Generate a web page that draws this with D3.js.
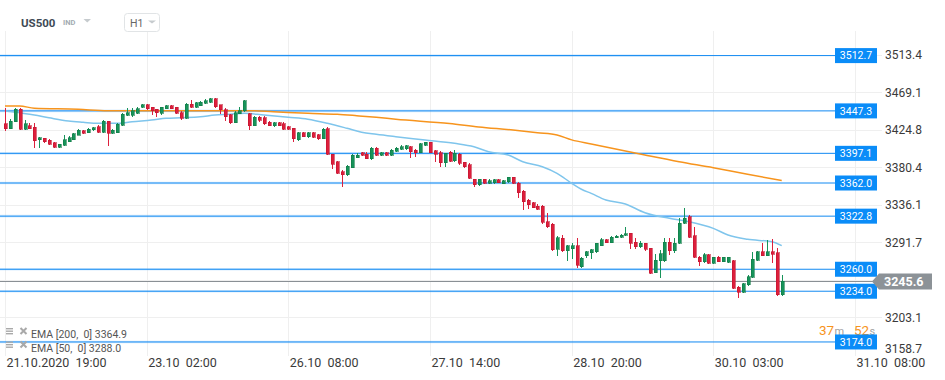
<!DOCTYPE html>
<html><head><meta charset="utf-8">
<script src="https://cdn.jsdelivr.net/npm/d3@7"></script>
<style>html,body{margin:0;padding:0;background:#fff;} svg{display:block;font-family:Roboto, "Noto Sans", sans-serif;}</style>
</head><body><svg id="chart" width="945" height="380"></svg>
<script>
const symbol = "US500", symbolType = "IND", interval = "H1";
// hourly candles [open, high, low, close]
const candles = [
[3431.8,3450.4,3423.9,3425.9],[3426.3,3437.4,3425.5,3434.8],[3434.5,3450.4,3433.9,3449.2],[3449.2,3450.4,3424.9,3425.7],
[3425.7,3436.5,3424.9,3431.8],[3429.5,3432.6,3425.9,3426.3],[3427.9,3432.6,3403.1,3412.2],[3413.0,3416.6,3403.1,3415.4],
[3415.0,3415.8,3409.0,3411.0],[3412.7,3413.5,3406.6,3408.0],[3409.9,3410.5,3403.4,3404.4],[3404.4,3408.6,3403.7,3408.0],
[3406.8,3418.9,3405.9,3413.0],[3411.0,3417.2,3410.0,3415.8],[3413.4,3421.7,3413.0,3420.1],[3418.7,3426.3,3418.3,3424.6],
[3424.1,3424.7,3420.3,3420.9],[3421.3,3427.5,3420.9,3425.7],[3424.9,3428.7,3423.3,3427.5],[3428.7,3430.3,3421.3,3422.3],
[3422.3,3436.5,3421.3,3434.8],[3434.8,3435.5,3406.3,3420.9],[3420.9,3425.5,3420.2,3424.6],[3421.3,3432.6,3420.6,3431.4],
[3430.2,3444.5,3429.5,3443.3],[3442.1,3450.4,3441.3,3445.2],[3442.1,3450.4,3440.1,3447.2],[3444.5,3451.6,3443.7,3450.0],
[3451.6,3455.5,3451.2,3454.3],[3454.3,3455.5,3448.4,3450.0],[3451.6,3452.3,3442.5,3447.2],[3449.2,3450.0,3440.1,3445.2],
[3444.5,3452.3,3442.5,3451.6],[3450.0,3454.0,3449.5,3453.1],[3453.1,3453.8,3449.4,3450.0],[3451.6,3452.3,3443.7,3444.5],
[3445.0,3446.6,3436.2,3438.7],[3438.7,3456.3,3437.5,3455.1],[3455.1,3460.2,3450.4,3451.6],[3451.6,3458.0,3450.8,3456.7],
[3453.5,3459.0,3452.8,3457.8],[3456.3,3461.0,3455.5,3459.4],[3457.6,3462.2,3457.0,3461.4],[3461.4,3462.0,3450.4,3452.3],
[3454.3,3454.8,3443.7,3448.4],[3448.4,3450.4,3435.3,3440.1],[3442.5,3443.7,3431.4,3433.4],[3433.4,3446.6,3432.8,3445.0],
[3443.7,3451.6,3443.3,3447.5],[3447.5,3459.6,3446.3,3459.0],[3443.7,3444.5,3424.9,3429.9],[3429.9,3441.0,3428.9,3440.0],
[3440.0,3440.8,3433.9,3436.5],[3438.9,3440.8,3430.6,3431.8],[3433.8,3435.3,3429.5,3429.9],[3429.9,3434.6,3428.7,3433.4],
[3433.0,3433.8,3429.3,3429.9],[3432.3,3433.8,3424.9,3425.7],[3428.3,3429.0,3425.0,3425.7],[3426.7,3427.5,3411.0,3414.5],
[3413.0,3422.8,3412.2,3421.6],[3421.6,3422.8,3416.2,3416.9],[3416.9,3422.8,3415.0,3421.3],[3421.6,3422.3,3415.6,3416.4],
[3418.9,3419.5,3413.0,3414.5],[3414.5,3426.7,3413.8,3425.7],[3426.1,3428.0,3395.1,3395.9],[3395.9,3396.5,3378.9,3384.4],
[3387.2,3388.4,3372.7,3373.5],[3375.4,3377.4,3356.8,3371.5],[3371.5,3383.2,3370.3,3382.0],[3380.1,3395.9,3379.4,3395.1],
[3392.0,3397.9,3391.3,3395.1],[3397.9,3399.1,3394.0,3394.8],[3395.9,3398.4,3390.0,3390.7],[3390.7,3404.3,3389.2,3403.1],
[3403.1,3404.0,3394.0,3394.8],[3394.8,3398.6,3394.2,3397.9],[3397.9,3398.6,3394.2,3394.8],[3394.8,3401.8,3394.2,3401.0],
[3399.3,3404.0,3398.6,3403.1],[3401.9,3407.0,3400.9,3405.0],[3402.7,3407.0,3400.9,3405.8],[3405.0,3405.8,3392.0,3399.1],
[3401.0,3401.9,3393.2,3397.9],[3397.9,3409.0,3397.1,3408.2],[3406.8,3411.0,3406.0,3410.2],[3410.2,3411.0,3397.0,3397.9],
[3399.9,3401.0,3387.2,3395.9],[3397.9,3399.9,3381.3,3386.0],[3386.0,3397.9,3381.3,3397.2],[3398.3,3399.9,3387.2,3388.0],
[3388.4,3401.0,3387.2,3397.2],[3396.3,3397.9,3383.3,3385.3],[3386.5,3387.2,3380.1,3381.3],[3383.3,3385.3,3366.8,3367.6],
[3366.4,3367.0,3357.7,3359.7],[3359.7,3367.2,3359.0,3366.4],[3366.4,3367.0,3361.0,3361.7],[3361.7,3367.2,3361.0,3364.4],
[3362.4,3366.4,3361.2,3365.6],[3365.6,3366.3,3361.8,3362.4],[3360.9,3365.0,3360.3,3364.4],[3363.6,3369.6,3362.4,3368.8],
[3368.8,3369.6,3360.5,3361.7],[3361.7,3362.9,3344.6,3350.5],[3352.5,3353.7,3330.1,3339.9],[3341.9,3342.5,3330.9,3336.0],
[3338.7,3339.9,3332.0,3332.8],[3334.8,3337.2,3330.1,3330.9],[3334.8,3336.0,3314.1,3315.3],[3316.4,3327.1,3308.6,3310.2],
[3313.2,3314.4,3282.0,3282.8],[3283.6,3299.3,3275.7,3297.3],[3296.6,3300.5,3280.7,3281.9],[3281.9,3288.7,3269.8,3287.5],
[3284.3,3290.5,3272.6,3287.5],[3287.5,3296.6,3261.1,3265.0],[3263.1,3274.9,3261.1,3272.9],[3275.7,3282.0,3272.9,3280.8],
[3279.6,3283.6,3271.7,3282.8],[3280.8,3291.4,3279.6,3290.7],[3287.9,3297.3,3287.5,3294.6],[3294.6,3295.4,3290.7,3291.4],
[3291.4,3298.8,3290.7,3298.0],[3297.3,3300.0,3296.6,3299.3],[3298.0,3301.2,3297.3,3300.5],[3300.5,3310.2,3299.5,3301.7],
[3302.5,3303.0,3284.0,3290.7],[3291.9,3296.6,3283.6,3286.7],[3286.7,3293.8,3284.8,3290.7],[3290.7,3291.4,3281.6,3283.6],
[3284.8,3285.5,3254.4,3255.2],[3255.9,3277.7,3255.2,3270.9],[3270.0,3282.8,3249.3,3278.1],[3270.1,3296.9,3269.0,3292.2],
[3292.2,3296.9,3276.9,3282.0],[3282.0,3296.9,3279.0,3290.9],[3290.9,3320.3,3289.6,3314.4],[3314.4,3332.1,3313.6,3320.3],
[3322.2,3324.2,3296.7,3297.9],[3299.5,3310.4,3273.0,3274.2],[3274.2,3275.7,3264.0,3269.0],[3269.0,3279.7,3267.8,3276.9],
[3276.9,3277.7,3266.2,3267.0],[3267.0,3275.0,3266.3,3274.2],[3274.2,3275.7,3268.2,3269.0],[3269.0,3275.0,3268.3,3274.2],
[3268.4,3275.0,3267.7,3274.2],[3269.8,3271.0,3236.3,3237.5],[3238.7,3240.2,3226.4,3232.8],[3232.8,3243.4,3232.0,3242.6],
[3241.4,3253.2,3240.2,3251.2],[3250.5,3280.8,3249.3,3271.8],[3270.9,3282.0,3270.1,3280.8],[3280.8,3290.7,3275.5,3276.1],
[3276.1,3294.6,3275.7,3280.8],[3280.8,3295.4,3266.9,3277.7],[3279.6,3284.8,3228.4,3229.6],[3229.6,3253.2,3228.5,3245.6]
];
const ema200Idx = [0,3,6,15,21,50,55,62,68,72,76,80,91,97,104,109,113,116,120,131,138,145,152,159];
const ema200 = [3453.1,3453.1,3450.4,3449.2,3447.5,3447.5,3446.3,3444.4,3443.3,3441.6,3439.7,3437.4,3432.4,3428.3,3424.7,3421.5,3418.8,3413.0,3408.1,3395.1,3387.2,3380.1,3372.3,3364.9];
const ema50Idx = [0,3,6,9,13,16,19,23,26,30,33,36,40,43,46,49,53,58,62,66,70,73,76,80,86,92,96,99,103,106,110,113,116,118,120,123,127,131,136,140,145,148,152,157,159];
const ema50 = [3447.2,3445.2,3442.4,3439.2,3435.3,3433.8,3432.6,3432.6,3434.5,3436.5,3438.5,3439.2,3440.4,3442.4,3443.3,3444.4,3442.4,3439.7,3437.4,3432.6,3426.7,3422.0,3419.6,3416.8,3412.9,3408.9,3404.9,3399.0,3395.1,3387.2,3381.3,3373.5,3361.7,3354.6,3349.8,3341.9,3337.2,3326.9,3320.3,3316.3,3308.4,3300.5,3295.4,3292.6,3288.0];
const levels = [3512.7,3447.3,3397.1,3362.0,3322.8,3260.0,3234.0,3174.0];
const priceTicks = [3513.4,3469.1,3424.8,3380.4,3336.1,3291.7,3247.4,3203.1,3158.7];
const timeTickIdx = [0,29,58,87,116,145,174];
const timeLabels = ["21.10.2020  19:00","23.10  02:00","26.10  08:00","27.10  14:00","28.10  20:00","30.10  03:00","31.10  08:00"];
const lastPrice = 3245.6;
const legendItems = ["EMA [200,  0] 3364.9","EMA [50,  0] 3288.0"];
const timerParts = ["37","m","52","s"];

const svg = d3.select("#chart");
const x = d3.scaleLinear().domain([0,174]).range([5,855]);
const y = d3.scaleLinear().domain([3158.7,3513.4]).range([354.9,55]);
const GREEN = "#17935a", RED = "#dd1f3c", BLUE = "#1189f2";

// grid
const grid = svg.append("g");
grid.selectAll("line.h").data(priceTicks.filter(p => y(p) < 350)).join("line")
  .attr("x1",0).attr("x2",882).attr("y1",d=>Math.round(y(d))+0.5).attr("y2",d=>Math.round(y(d))+0.5)
  .attr("stroke","#efefef").attr("stroke-width",1);
grid.selectAll("line.v").data(timeTickIdx).join("line")
  .attr("x1",d=>Math.round(x(d))+0.5).attr("x2",d=>Math.round(x(d))+0.5).attr("y1",31).attr("y2",356)
  .attr("stroke","#efefef").attr("stroke-width",1);

// level lines
const lv = svg.append("g");
lv.selectAll("line.band").data(levels).join("line")
  .attr("x1",0).attr("x2",690).attr("y1",d=>y(d)).attr("y2",d=>y(d))
  .attr("stroke","rgba(120,190,250,0.28)").attr("stroke-width",2.6);
lv.selectAll("line.main").data(levels).join("line")
  .attr("x1",0).attr("x2",836).attr("y1",d=>y(d)).attr("y2",d=>y(d))
  .attr("stroke",BLUE).attr("stroke-width",1);

// last price line
svg.append("line").attr("x1",0).attr("x2",873).attr("y1",y(lastPrice)).attr("y2",y(lastPrice))
  .attr("stroke","#8a9095").attr("stroke-width",1.1);

// EMAs
const line = d3.line().x(d=>x(d[0])).y(d=>y(d[1])).curve(d3.curveMonotoneX);
svg.append("path").datum(ema200Idx.map((d,i)=>[d,ema200[i]])).attr("d",line)
  .attr("fill","none").attr("stroke","#f7941d").attr("stroke-width",1.5);
svg.append("path").datum(ema50Idx.map((d,i)=>[d,ema50[i]])).attr("d",line)
  .attr("fill","none").attr("stroke","#7fc5ec").attr("stroke-width",1.5);

// candles
const cg = svg.append("g").attr("shape-rendering","crispEdges");
const cs = cg.selectAll("g").data(candles).join("g");
cs.append("line")
  .attr("x1",(d,i)=>Math.round(x(i))+0.5).attr("x2",(d,i)=>Math.round(x(i))+0.5)
  .attr("y1",d=>y(d[1])).attr("y2",d=>y(d[2]))
  .attr("stroke",d=>d[3]>=d[0]?GREEN:RED).attr("stroke-width",1);
cs.append("rect")
  .attr("x",(d,i)=>Math.round(x(i))-1).attr("width",3)
  .attr("y",d=>y(Math.max(d[0],d[3])))
  .attr("height",d=>Math.max(1.5,Math.abs(y(d[0])-y(d[3]))))
  .attr("fill",d=>d[3]>=d[0]?GREEN:RED)
  .attr("stroke",d=>d[3]>=d[0]?"#0f7a45":"#c2142f").attr("stroke-width",0.6);

// legend
const lg = svg.append("g");
legendItems.forEach((t,i)=>{
  const by = 338 + i*13.5;
  const g = lg.append("g");
  [0,2.5,5].forEach(k=>g.append("rect").attr("x",6).attr("y",by-10+k).attr("width",7).attr("height",1.4).attr("fill","#a9a9a9"));
  g.append("path").attr("d",`M${20.5},${by-10} L${26.5},${by-4} M${26.5},${by-10} L${20.5},${by-4}`)
    .attr("stroke","#a9a9a9").attr("stroke-width",2);
  g.append("text").attr("x",31).attr("y",by).attr("font-size",10.5).attr("fill","#555")
    .style("white-space","pre").text(t);
});

// timer (its lower edge sits under the 3174.0 level tag, as in the original)
const tm = svg.append("text").attr("y",335);
const tpos = [819,834.5,854,869.5];
timerParts.forEach((p,i)=>{
  tm.append("tspan").attr("x",tpos[i]).attr("fill",i%2===0?"#f7941d":"#a0a0a0")
    .attr("font-size",i%2===0?13.5:11).text(p);
});

// level boxes
const lb = svg.append("g");
lb.selectAll("rect").data(levels).join("rect")
  .attr("x",835).attr("width",42).attr("y",d=>y(d)-7.5).attr("height",15).attr("fill","#0a8cf8");
lb.selectAll("text").data(levels).join("text")
  .attr("x",856).attr("y",d=>y(d)).attr("dy","0.36em").attr("text-anchor","middle")
  .attr("font-size",10.5).attr("fill","#fff").text(d=>d.toFixed(1));

// price axis
const ya = svg.append("g").attr("transform","translate(885,0)")
  .call(d3.axisRight(y).tickValues(priceTicks).tickSize(0).tickPadding(0).tickFormat(d3.format(".1f")));
ya.select(".domain").remove();
ya.selectAll("text").attr("font-size",12).attr("fill","#3a3a3a").attr("font-family","Roboto, sans-serif");
ya.selectAll(".tick").filter(d=>y(d)>349).attr("transform","translate(0,349)");

// time axis
const xa = svg.append("g").attr("transform","translate(0,367)")
  .call(d3.axisBottom(x).tickValues(timeTickIdx).tickSize(0).tickFormat((d,i)=>timeLabels[i]));
xa.select(".domain").remove();
xa.selectAll("text").attr("y",0).attr("dy",0).attr("dx",1).attr("text-anchor","start")
  .attr("font-size",12.5).attr("fill","#3a3a3a").attr("font-family","Roboto, sans-serif").style("white-space","pre");

// last price tag
const ly = y(lastPrice);
svg.append("path").attr("d",`M872,${ly} L879,${ly-8} L932,${ly-8} L932,${ly+8} L879,${ly+8} Z`).attr("fill","#8c9297");
svg.append("text").attr("x",884).attr("y",ly).attr("dy","0.36em").attr("font-size",12.5).attr("font-weight","bold")
  .attr("fill","#fff").text(lastPrice.toFixed(1));

// header
const hd = svg.append("g");
hd.append("text").attr("x",21).attr("y",27).attr("font-size",11.5).attr("font-weight","bold").attr("fill","#3e4a55").text(symbol);
hd.append("text").attr("x",63).attr("y",25).attr("font-size",7.5).attr("font-weight","bold").attr("fill","#a3abb1").text(symbolType);
hd.append("path").attr("d","M83.5,19 L91,19 L87.25,22.5 Z").attr("fill","#c6cbce");
hd.append("rect").attr("x",124.5).attr("y",13.5).attr("width",35).attr("height",18).attr("rx",3)
  .attr("fill","#fff").attr("stroke","#e1e4e6");
hd.append("text").attr("x",130).attr("y",26.5).attr("font-size",10.5).attr("fill","#666").text(interval);
hd.append("path").attr("d","M148,20.5 L156,20.5 L152,23.5 Z").attr("fill","#c6cbce");
</script></body></html>
